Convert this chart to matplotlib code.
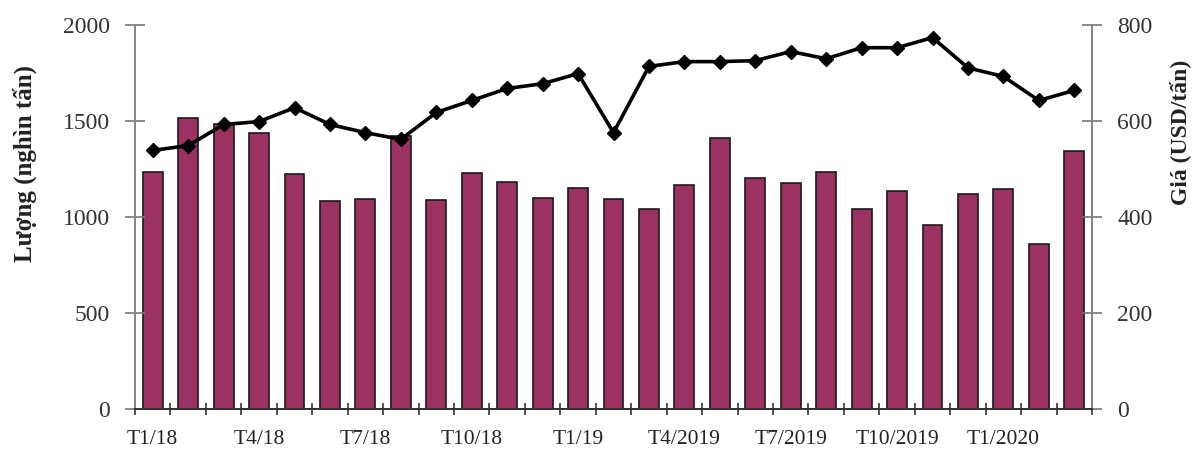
import numpy as np
import matplotlib

matplotlib.use("Agg")

import matplotlib.pyplot as plt

# Lượng (nghìn tấn) theo tháng, T1/2018 - T3/2020
volume = [1236, 1517, 1485, 1439, 1226, 1086, 1096, 1420, 1091, 1231,
          1184, 1101, 1153, 1096, 1044, 1169, 1413, 1205, 1179, 1236,
          1044, 1134, 961, 1122, 1148, 862, 1345]

# Giá (USD/tấn)
price = [539, 549, 593, 599, 628, 593, 576, 562, 618, 643,
         668, 678, 699, 576, 714, 724, 724, 726, 745, 730,
         753, 753, 774, 711, 693, 643, 664]

tick_labels = ["T1/18", "T4/18", "T7/18", "T10/18", "T1/19",
               "T4/2019", "T7/2019", "T10/2019", "T1/2020"]

plt.rcParams["font.family"] = ["Liberation Serif", "DejaVu Serif"]

x = np.arange(len(volume))

fig = plt.figure(figsize=(11.97, 4.49), dpi=100)
ax = fig.add_axes([0.1128, 0.089, 0.7995, 0.855])
ax2 = ax.twinx()

ax.bar(x, volume, width=0.56, color="#9b3262", edgecolor="#1a1a1a", linewidth=1.2)
ax2.plot(x, price, color="black", linewidth=2.6, marker="D", markersize=7.5)

ax.set_xlim(-0.5, len(volume) - 0.5)
ax.set_ylim(0, 2000)
ax2.set_ylim(0, 800)
ax.set_yticks([0, 500, 1000, 1500, 2000])
ax2.set_yticks([0, 200, 400, 600, 800])

ax.set_xticks(x[::3])
ax.set_xticklabels(tick_labels)
ax.set_xticks(np.arange(-0.5, len(volume), 1), minor=True)
ax.tick_params(axis="x", which="major", length=0, labelsize=15.5, colors="#222222", pad=15)
ax.tick_params(axis="x", which="minor", direction="inout", length=9, width=1.2, color="#333333")
ax.tick_params(axis="y", direction="inout", length=14, width=1.2, color="#777777",
               labelsize=17, labelcolor="#333333", pad=11)
ax2.tick_params(axis="y", direction="inout", length=14, width=1.2, color="#777777",
                labelsize=17, labelcolor="#333333", pad=11)

for a in (ax, ax2):
    a.spines["top"].set_visible(False)
    a.spines["left"].set_color("#888888")
    a.spines["right"].set_color("#888888")
    a.spines["bottom"].set_color("#333333")
    a.spines["left"].set_linewidth(1.4)
    a.spines["right"].set_linewidth(1.4)
    a.spines["bottom"].set_linewidth(1.4)

ax.set_ylabel("Lượng (nghìn tấn)", fontsize=18, fontweight="bold", color="#222222")
ax.yaxis.set_label_coords(-0.102, 0.64)
ax2.set_ylabel("Giá (USD/tấn)", fontsize=17, fontweight="bold", color="#222222",
               rotation=90)
ax2.yaxis.set_label_coords(1.08, 0.72)

fig.savefig("out.png", dpi=100)
